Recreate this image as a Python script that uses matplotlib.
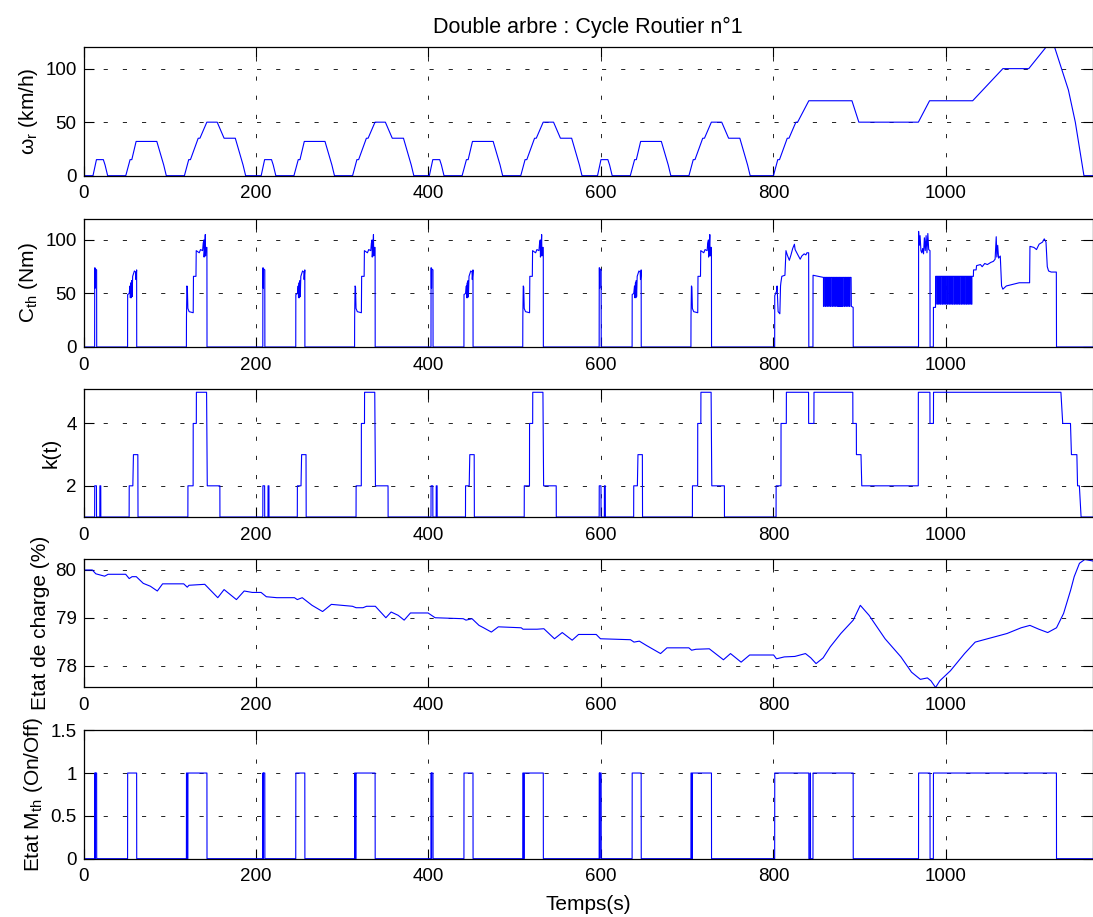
import numpy as np
import matplotlib
matplotlib.use("Agg")
import matplotlib.pyplot as plt

plt.rcParams['font.family'] = ['Liberation Sans', 'DejaVu Sans']
plt.rcParams['mathtext.fontset'] = 'custom'
plt.rcParams['mathtext.rm'] = 'Liberation Sans'
plt.rcParams['mathtext.it'] = 'Liberation Sans'
plt.rcParams['mathtext.default'] = 'regular'
tick_size = 13.5
label_size = 15
title_size = 15.5

# ---- data ----
# urban cycle (ECE-15), repeated at these start times
urban_offsets = [0, 195, 390, 585]

# vehicle speed (km/h)
ece_t = [0, 11, 15, 23, 25, 28, 49, 54, 56, 61, 85, 93, 96, 117, 122, 124, 133, 135,
         143, 155, 163, 176, 185, 188, 195]
ece_v = [0, 0, 15, 15, 10, 0, 0, 15, 15, 32, 32, 10, 0, 0, 15, 15, 35, 35,
         50, 50, 35, 35, 10, 0, 0]
eudc_t = [780, 800, 805, 807, 816, 818, 826, 828, 841, 891, 899, 968, 981, 1031,
          1066, 1096, 1116, 1126, 1142, 1150, 1160, 1170]
eudc_v = [0, 0, 15, 15, 35, 35, 50, 50, 70, 70, 50, 50, 70, 70,
          100, 100, 120, 120, 80, 50, 0, 0]

# engine torque (Nm)
ece_tq_t = [0, 12.9, 13.0, 13.3, 13.4, 13.6, 13.7, 15.2, 15.3,
            51.1, 51.2, 53.0, 53.9, 54.3, 55.0, 55.4, 55.9, 56.3, 57.0, 59.0, 60.5, 60.8, 61.6, 61.7,
            119.3, 119.4, 119.9, 120.4, 121.0, 122.5, 127.2, 127.5, 130.4, 130.7, 134.2, 135.7,
            138.1, 138.8, 139.6, 139.8, 140.6, 141.2, 141.5, 142.0, 143.1, 143.2, 195]
ece_tq_v = [0, 0, 74, 74, 55, 55, 73, 72, 0,
            0, 49, 50, 57, 46, 60, 46, 62, 47, 66, 71, 70, 63, 72, 0,
            0, 28, 57, 56, 36, 33, 32, 66, 66, 90, 88, 91,
            90, 97, 100, 84, 92, 105, 85, 93, 93, 0, 0]
eudc_tq_t1 = [780, 801.4, 801.5, 803.5, 804.2, 805.4, 807.4, 808.2, 808.6, 809.7,
              813.3, 814.5, 816, 818.4, 820.3, 822.3, 824.3, 825.1, 827, 829,
              831, 832.9, 835.6, 837.6, 838.8, 840.8, 841.0, 845.8, 845.9, 857.5]
eudc_tq_v1 = [0, 0, 48, 52, 57, 33, 31, 57, 60, 66,
              67, 90, 86, 81, 86, 92, 96, 91, 88, 85,
              82, 85, 87, 86, 88, 88, 0, 0, 67, 65]
tq_dips1 = [858, 860, 862, 864, 866, 868, 870, 872, 874, 875.5, 877, 878.5,
            880, 882, 884, 886, 888]
eudc_tq_t2 = [890, 890.3, 892.4, 892.5, 968.2, 968.3, 969, 970, 971, 972,
              973, 974, 975, 976, 977, 978, 979, 980, 981.5, 981.6,
              985.4, 985.5, 987.9, 988.0]
eudc_tq_v2 = [65, 38, 37, 0, 0, 108, 95, 104, 90, 88,
              92, 87, 102, 90, 104, 88, 106, 91, 90, 0,
              0, 37, 37, 66]
tq_dips2 = [989.5, 991.5, 993.5, 995.5, 997.5, 999.5, 1001.5, 1003.5, 1005.5, 1007.5,
            1009.5, 1011.5, 1013.5, 1015.5, 1017.5, 1019.5, 1021.5, 1023.5, 1025.5,
            1027.5, 1029.5]
eudc_tq_t3 = [1031.8, 1032, 1035, 1035.5, 1040, 1042, 1045, 1048, 1052, 1055,
              1057, 1058.3, 1059, 1060, 1061, 1063, 1064.5, 1066, 1070, 1075,
              1080, 1085, 1097, 1097.4, 1102, 1105, 1108, 1112, 1114, 1116,
              1117.5, 1119, 1122, 1128, 1128.2, 1170]
eudc_tq_v3 = [66, 72, 72, 76, 77, 75, 78, 77, 79, 80,
              82, 103, 84, 95, 83, 85, 57, 54, 57, 58,
              59, 60, 60, 94, 93, 91, 96, 98, 101, 98,
              75, 71, 70, 70, 0, 0]

# gear ratio k(t)
ece_k_t = [0, 12.9, 13.0, 15.0, 15.1, 18.9, 19.0, 20.0, 20.1, 52.9, 53.0, 57.2, 57.9,
           63.0, 63.2, 121.0, 121.1, 127.1, 127.2, 130.8, 130.9, 142.7, 143.5, 158.1, 158.2, 195]
ece_k_v = [1, 1, 2, 2, 1, 1, 2, 2, 1, 1, 2, 2, 3,
           3, 1, 1, 2, 2, 4, 4, 5, 5, 2, 2, 1, 1]
eudc_k_t = [780, 803.0, 803.1, 808.7, 808.8, 814.9, 815.0, 840.7, 840.8, 846.9, 847.0,
            892.0, 892.1, 896.1, 896.2, 901.5, 902.4, 967.9, 968.0, 981.4, 981.5,
            985.5, 985.6, 1133.3, 1135.4, 1144.4, 1145.5, 1151.8, 1152.6, 1154.7, 1156.7, 1170]
eudc_k_v = [1, 1, 2, 2, 4, 4, 5, 5, 4, 4, 5,
            5, 4, 4, 3, 3, 2, 2, 5, 5, 4,
            4, 5, 5, 4, 4, 3, 3, 2, 2, 1, 1]

# battery state of charge (%)
soc_t = [0, 10.2, 14.3, 24.5, 28.5, 48.9, 53, 56.3, 61.2, 69.3, 77.5, 85.6, 91.7, 116.2,
         120.3, 122.3, 140.6, 155.7, 163, 177.3, 186.3, 195.7, 205.9, 212, 224.2, 244.6,
         247.9, 253.6, 265, 277.2, 287.4, 311.9, 316, 324.1, 328.2, 338.4, 350.6, 356.7,
         364.9, 371.8, 379.1, 399.5, 407.7, 440.3, 443.5, 450.5, 458.6, 463.9, 472.9, 481,
         507.5, 509.6, 525.9,
         533.8, 546.1, 555.1, 566.6, 574, 594.5, 599.4, 634.2, 638.3, 644.5, 652.7, 669.1,
         676.5, 701.9, 705.1, 710.1, 725.6, 742, 750.2, 762.5, 772.4, 800.2, 803.5, 812.5,
         824.8, 837.1, 843.3, 849.4, 857.6, 865.8, 878.1, 892.5, 900.7, 910.9, 929.4, 947.8,
         960.1, 970.3, 978.5, 982.6, 988, 992.9, 1005.2, 1021.6, 1033.9, 1044.1, 1058.5,
         1070.8, 1087.2, 1097.4, 1107.7, 1118, 1128.2, 1136.4, 1144.6, 1148.7, 1154.8,
         1161, 1170]
soc_v = [80.0, 80.0, 79.92, 79.87, 79.91, 79.91, 79.82, 79.86, 79.86, 79.72, 79.66, 79.56,
         79.71, 79.71, 79.64, 79.68, 79.70, 79.42, 79.59, 79.38, 79.56, 79.53, 79.53, 79.44,
         79.42, 79.42, 79.38, 79.42, 79.26, 79.13, 79.28, 79.24, 79.21, 79.21, 79.24, 79.24,
         79.0, 79.12, 79.05, 78.95, 79.1, 79.1, 79.0, 78.98, 78.95, 78.98, 78.84, 78.79,
         78.70, 78.81, 78.79, 78.76, 78.76,
         78.77, 78.56, 78.69, 78.53, 78.65, 78.65, 78.56, 78.54, 78.49, 78.51, 78.42, 78.25,
         78.37, 78.37, 78.32, 78.34, 78.35, 78.12, 78.25, 78.07, 78.22, 78.22, 78.14, 78.18,
         78.19, 78.25, 78.16, 78.04, 78.16, 78.39, 78.67, 78.95, 79.26, 79.05, 78.56, 78.18,
         77.86, 77.71, 77.74, 77.68, 77.54, 77.68, 77.89, 78.25, 78.49, 78.54, 78.61,
         78.67, 78.79, 78.84, 78.76, 78.69, 78.79, 79.09, 79.58, 79.86, 80.14,
         80.22, 80.19]

# engine on/off state
ece_on_t = [0, 12.9, 13.0, 13.4, 13.5, 13.6, 13.7, 15.2, 15.3, 51.1, 51.2, 61.6, 61.7,
            119.3, 119.4, 120.2, 120.3, 121.0, 121.1, 143.1, 143.2, 195]
ece_on_v = [0, 0, 1, 1, 0, 0, 1, 1, 0, 0, 1, 1, 0,
            0, 1, 1, 0, 0, 1, 1, 0, 0]
eudc_on_t = [780, 801.4, 801.5, 841.0, 841.1, 842.5, 842.6, 842.9, 843.0, 845.8, 845.9,
             892.4, 892.5, 968.2, 968.3, 981.5, 981.6, 985.4, 985.5, 1128.1, 1128.2, 1170]
eudc_on_v = [0, 0, 1, 1, 0, 0, 1, 1, 0, 0, 1,
             1, 0, 0, 1, 1, 0, 0, 1, 1, 0, 0]


def tile(base_t, base_v, tail_t, tail_v):
    t, v = [], []
    for off in urban_offsets:
        t += [x + off for x in base_t]
        v += list(base_v)
    return np.array(t + list(tail_t)), np.array(v + list(tail_v))


def dips(times, hi, lo, w=0.6):
    t, v = [], []
    for d in times:
        t += [d, d, d + w, d + w]
        v += [hi, lo, lo, hi]
    return t, v


t_speed, speed = tile(ece_t, ece_v, eudc_t, eudc_v)
d1t, d1v = dips(tq_dips1, 65, 38)
d2t, d2v = dips(tq_dips2, 66, 40)
t_tq, torque = tile(ece_tq_t, ece_tq_v,
                    eudc_tq_t1 + d1t + eudc_tq_t2 + d2t + eudc_tq_t3,
                    eudc_tq_v1 + d1v + eudc_tq_v2 + d2v + eudc_tq_v3)
t_k, kgear = tile(ece_k_t, ece_k_v, eudc_k_t, eudc_k_v)
t_on, state = tile(ece_on_t, ece_on_v, eudc_on_t, eudc_on_v)

# ---- figure ----
fig = plt.figure(figsize=(10.93, 9.17), dpi=100)
left, width, height = 0.0764, 0.9232, 0.1401
bottoms = [0.8084, 0.6216, 0.4362, 0.2503, 0.0636]
axes = [fig.add_axes([left, b, width, height]) for b in bottoms]

series = [(t_speed, speed), (t_tq, torque), (t_k, kgear),
          (np.array(soc_t), np.array(soc_v)), (t_on, state)]
ylabels = [r'$\omega_r$ (km/h)', r'$C_{th}$ (Nm)', 'k(t)',
           'Etat de charge (%)', r'Etat $M_{th}$ (On/Off)']
ylims = [(0, 120), (0, 120), (1, 5.12), (77.54, 80.23), (0, 1.5)]
yticks = [[0, 50, 100], [0, 50, 100], [2, 4], [78, 79, 80], [0, 0.5, 1, 1.5]]
yticklabels = [None, None, None, None, ['0', '0.5', '1', '1.5']]

for ax, (x, y), lab, yl, yt, ytl in zip(axes, series, ylabels, ylims, yticks, yticklabels):
    ax.plot(x, y, color='#0000ff', linewidth=0.8)
    ax.set_xlim(0, 1170)
    ax.set_ylim(*yl)
    ax.set_xticks([0, 200, 400, 600, 800, 1000])
    ax.set_yticks(yt)
    if ytl:
        ax.set_yticklabels(ytl)
    ax.grid(True, color='k', linestyle=(0, (5, 18)), linewidth=0.6)
    ax.tick_params(direction='in', top=True, right=True, length=7,
                   labelsize=tick_size, width=0.8)
    ax.tick_params(axis='x', pad=7)
    ax.tick_params(axis='y', pad=5)
    ax.set_ylabel(lab, fontsize=label_size, labelpad=4)
    for s in ax.spines.values():
        s.set_linewidth(0.9)

axes[0].set_title('Double arbre : Cycle Routier n°1', fontsize=title_size, pad=10)
axes[-1].set_xlabel('Temps(s)', fontsize=label_size, labelpad=7)

plt.savefig('out.png', dpi=100)
